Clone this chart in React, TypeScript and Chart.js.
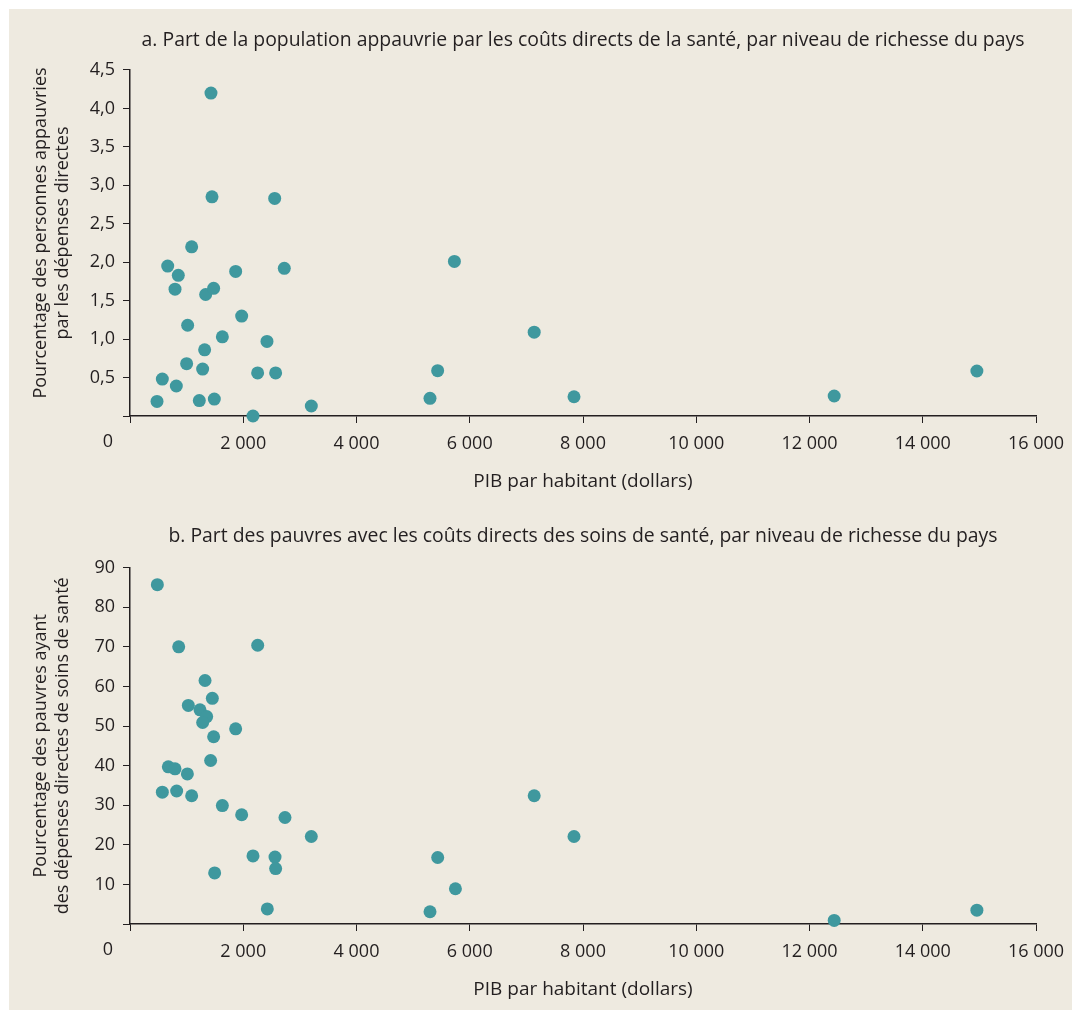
import React, { useEffect, useRef } from 'react';
import { Chart, registerables } from 'chart.js';

Chart.register(...registerables);

// ---------- Data ----------
const titleA = 'a. Part de la population appauvrie par les coûts directs de la santé, par niveau de richesse du pays';
const titleB = 'b. Part des pauvres avec les coûts directs des soins de santé, par niveau de richesse du pays';
const yTitleA = ['Pourcentage des personnes appauvries', 'par les dépenses directes'];
const yTitleB = ['Pourcentage des pauvres ayant', 'des dépenses directes de soins de santé'];
const xTitle = 'PIB par habitant (dollars)';

// Panel a: GDP per capita (dollars) and share impoverished (%)
const gdpA = [1430, 1448, 2555, 1089, 666, 853, 795, 1866, 2725, 1336, 1477, 1972, 1018, 1631, 2419, 1318, 1000, 1283, 2254, 2572, 571, 818, 477, 1224, 1489, 2172, 3202, 5298, 5433, 5729, 7138, 7841, 12436, 14956];
const shareA = [4.20, 2.85, 2.83, 2.20, 1.95, 1.83, 1.65, 1.88, 1.92, 1.58, 1.66, 1.30, 1.18, 1.03, 0.97, 0.86, 0.68, 0.61, 0.56, 0.56, 0.48, 0.39, 0.19, 0.20, 0.22, 0.0, 0.13, 0.23, 0.59, 2.01, 1.09, 0.25, 0.26, 0.585];

// Panel b: GDP per capita (dollars) and share of poor with direct spending (%)
const gdpB = [483, 860, 2255, 1325, 1454, 1030, 1236, 1354, 1283, 1866, 1477, 1424, 677, 795, 1013, 571, 824, 1089, 1631, 1972, 2737, 3202, 2172, 2561, 2572, 1495, 2425, 5298, 5434, 5747, 7138, 7841, 12436, 14956];
const shareB = [85.7, 70.0, 70.4, 61.5, 57.0, 55.2, 54.1, 52.4, 50.9, 49.3, 47.3, 41.3, 39.7, 39.2, 37.9, 33.3, 33.6, 32.4, 29.9, 27.6, 26.9, 22.1, 17.2, 16.9, 14.0, 12.9, 3.8, 3.1, 16.8, 8.9, 32.4, 22.1, 0.9, 3.5];

const xTickValues = [0, 2000, 4000, 6000, 8000, 10000, 12000, 14000, 16000];
const xTickLabels = ['', '2 000', '4 000', '6 000', '8 000', '10 000', '12 000', '14 000', '16 000'];
const originLabel = '0';

const yTickValuesA = [0, 0.5, 1.0, 1.5, 2.0, 2.5, 3.0, 3.5, 4.0, 4.5];
const yTickLabelsA = ['', '0,5', '1,0', '1,5', '2,0', '2,5', '3,0', '3,5', '4,0', '4,5'];
const yTickValuesB = [0, 10, 20, 30, 40, 50, 60, 70, 80, 90];
const yTickLabelsB = ['', '10', '20', '30', '40', '50', '60', '70', '80', '90'];

// ---------- Style ----------
const FONT = "'Open Sans', sans-serif";
const TEXT = '#231F20';
const BG = '#EEEAE0';
const DOT = '#3F989E';
const TICK_LEN = 7;
const TICK_PAD = 10;
const TICK_FONT = 18;
const TITLE_FONT = 19.4;
const XTITLE_FONT = 19;
const YTITLE_FONT = 18;

const zeroLabelPlugin = {
  id: 'zeroLabel',
  afterDraw(chart: any) {
    const s = chart.scales.x;
    const ctx = chart.ctx;
    ctx.save();
    ctx.font = `${TICK_FONT}px ${FONT}`;
    ctx.fillStyle = TEXT;
    ctx.textAlign = 'center';
    ctx.textBaseline = 'top';
    ctx.fillText(originLabel, chart.chartArea.left - 22, s.top + TICK_LEN + TICK_PAD);
    ctx.restore();
  },
};

const yTitlePlugin = {
  id: 'yTitle',
  afterDraw(chart: any, _args: any, opts: any) {
    const ctx = chart.ctx;
    const ca = chart.chartArea;
    ctx.save();
    ctx.translate(32, (ca.top + ca.bottom) / 2 + (opts.shift || 0));
    ctx.rotate(-Math.PI / 2);
    ctx.font = `${YTITLE_FONT}px ${FONT}`;
    ctx.fillStyle = TEXT;
    ctx.textAlign = 'center';
    ctx.textBaseline = 'middle';
    (opts.lines as string[]).forEach((line, i) => ctx.fillText(line, 0, i * 21.5));
    ctx.restore();
  },
};

type PanelProps = {
  height: number;
  title: string;
  yTitle: string[];
  yTitleShift: number;
  xs: number[];
  ys: number[];
  yTickValues: number[];
  yTickLabels: string[];
  titlePadBottom: number;
  xScaleHeight: number;
  xTitlePadBottom: number;
};

function ScatterPanel(p: PanelProps) {
  const ref = useRef<HTMLCanvasElement | null>(null);
  useEffect(() => {
    if (!ref.current) return;
    const chart = new Chart(ref.current, {
      type: 'scatter',
      data: {
        datasets: [
          {
            data: p.xs.map((x, i) => ({ x, y: p.ys[i] })),
            pointRadius: 6.5,
            pointHoverRadius: 6.5,
            pointBackgroundColor: DOT,
            pointBorderWidth: 0,
            borderWidth: 0,
            showLine: false,
            clip: false as any,
          },
        ],
      },
      plugins: [zeroLabelPlugin, yTitlePlugin],
      options: {
        responsive: false,
        animation: false,
        devicePixelRatio: 1,
        layout: { padding: { left: 0, right: 36, top: 0, bottom: 0 } },
        plugins: {
          legend: { display: false },
          tooltip: { enabled: false },
          yTitle: { lines: p.yTitle, shift: p.yTitleShift },
          title: {
            display: true,
            text: p.title,
            fullSize: false,
            color: TEXT,
            font: { family: FONT, size: TITLE_FONT, weight: 'normal', lineHeight: 1.2 },
            padding: { top: 19.4, bottom: p.titlePadBottom },
          },
        },
        scales: {
          x: {
            type: 'linear',
            min: 0,
            max: 16000,
            afterBuildTicks: (s: any) => {
              s.ticks = xTickValues.map((v) => ({ value: v }));
            },
            afterFit: (s: any) => {
              s.height = p.xScaleHeight;
              s.paddingRight = 0;
              s.paddingLeft = 0;
            },
            border: { display: true, color: TEXT, width: 1.5 },
            grid: { display: true, drawOnChartArea: false, drawTicks: true, tickLength: TICK_LEN, color: TEXT, tickColor: TEXT, lineWidth: 1 },
            ticks: {
              autoSkip: false,
              maxRotation: 0,
              color: TEXT,
              padding: TICK_PAD,
              font: { family: FONT, size: TICK_FONT },
              callback: (_v: any, i: number) => xTickLabels[i],
            },
            title: {
              display: true,
              text: xTitle,
              color: TEXT,
              font: { family: FONT, size: XTITLE_FONT, lineHeight: 1.2 },
              padding: { top: 0, bottom: p.xTitlePadBottom },
            },
          },
          y: {
            type: 'linear',
            min: p.yTickValues[0],
            max: p.yTickValues[p.yTickValues.length - 1],
            afterBuildTicks: (s: any) => {
              s.ticks = p.yTickValues.map((v) => ({ value: v }));
            },
            afterFit: (s: any) => {
              s.width = 121;
            },
            border: { display: true, color: TEXT, width: 1.5 },
            grid: { display: true, drawOnChartArea: false, drawTicks: true, tickLength: TICK_LEN, color: TEXT, tickColor: TEXT, lineWidth: 1 },
            ticks: {
              autoSkip: false,
              color: TEXT,
              padding: 8,
              font: { family: FONT, size: TICK_FONT },
              callback: (_v: any, i: number) => p.yTickLabels[i],
            },
            title: { display: false },
          },
        },
      } as any,
    });
    return () => chart.destroy();
  }, []);
  return <canvas ref={ref} width={1063} height={p.height} style={{ display: 'block' }} />;
}

export default function App() {
  return (
    <div style={{ position: 'absolute', left: 9, top: 9, width: 1063, height: 1001, background: BG }}>
      <ScatterPanel
        height={496}
        title={titleA}
        yTitle={yTitleA}
        yTitleShift={-10}
        xs={gdpA}
        ys={shareA}
        yTickValues={yTickValuesA}
        yTickLabels={yTickLabelsA}
        titlePadBottom={18.3}
        xScaleHeight={89}
        xTitlePadBottom={11.6}
      />
      <ScatterPanel
        height={505}
        title={titleB}
        yTitle={yTitleB}
        yTitleShift={0}
        xs={gdpB}
        ys={shareB}
        yTickValues={yTickValuesB}
        yTickLabels={yTickLabelsB}
        titlePadBottom={20}
        xScaleHeight={86}
        xTitlePadBottom={8.6}
      />
    </div>
  );
}
